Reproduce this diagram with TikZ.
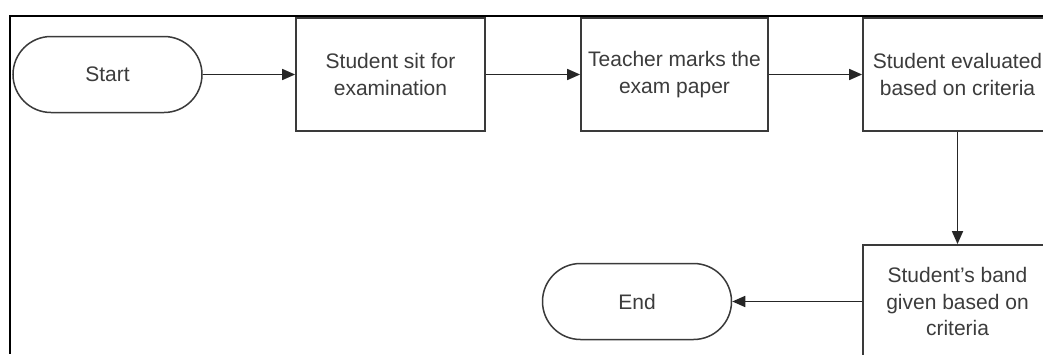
\documentclass[tikz,border=0pt]{standalone}
\usepackage{fontspec}
\setmainfont{Liberation Sans}
\usetikzlibrary{arrows.meta}
\definecolor{ln}{HTML}{3A3A3A}
\definecolor{tx}{HTML}{3C3C3C}
\begin{document}
\begin{tikzpicture}[x=1pt,y=-1pt,
  every node/.style={font=\fontsize{21}{26.5}\selectfont, text=tx, align=center, inner sep=0pt},
  procbox/.style={draw=ln, line width=1.8pt, fill=white, minimum width=189pt, minimum height=113pt},
  termbox/.style={draw=ln, line width=1.5pt, fill=white, rounded corners=38pt, minimum width=189pt, minimum height=76pt},
  flow/.style={draw=black!85, line width=1.7pt, -{Triangle[length=13pt,width=11pt]}},
  frameline/.style={draw=black, line width=2.2pt}]
\useasboundingbox (0,0) rectangle (1043,354);
\clip (0,0) rectangle (1043,354);
\fill[white] (0,0) rectangle (1043,354);
\coordinate (ftl) at (10,16);
\coordinate (ftr) at (1043,16);
\coordinate (fbl) at (10,354);
\draw[frameline] (ftr) -- (ftl) -- (fbl);
\node[termbox] (start) at (107.5,74.5) {Start};
\node[procbox] (b1) at (390.5,74.5) {Student sit for\\examination};
\node[procbox, minimum width=187pt] (b2) at (674.5,74.5) {Teacher marks the\\exam paper};
\node[procbox] (b3) at (957.5,74.5) {Student evaluated\\based on criteria};
\node[procbox] (b4) at (957.5,301.5) {Student’s band\\given based on\\criteria};
\node[termbox] (end) at (637,301.5) {End};
\draw[flow] (start.east) -- (b1.west);
\draw[flow] (b1.east) -- (b2.west);
\draw[flow] (b2.east) -- (b3.west);
\draw[flow] (b3.south) -- (b4.north);
\draw[flow] (b4.west) -- (end.east);
\end{tikzpicture}
\end{document}
